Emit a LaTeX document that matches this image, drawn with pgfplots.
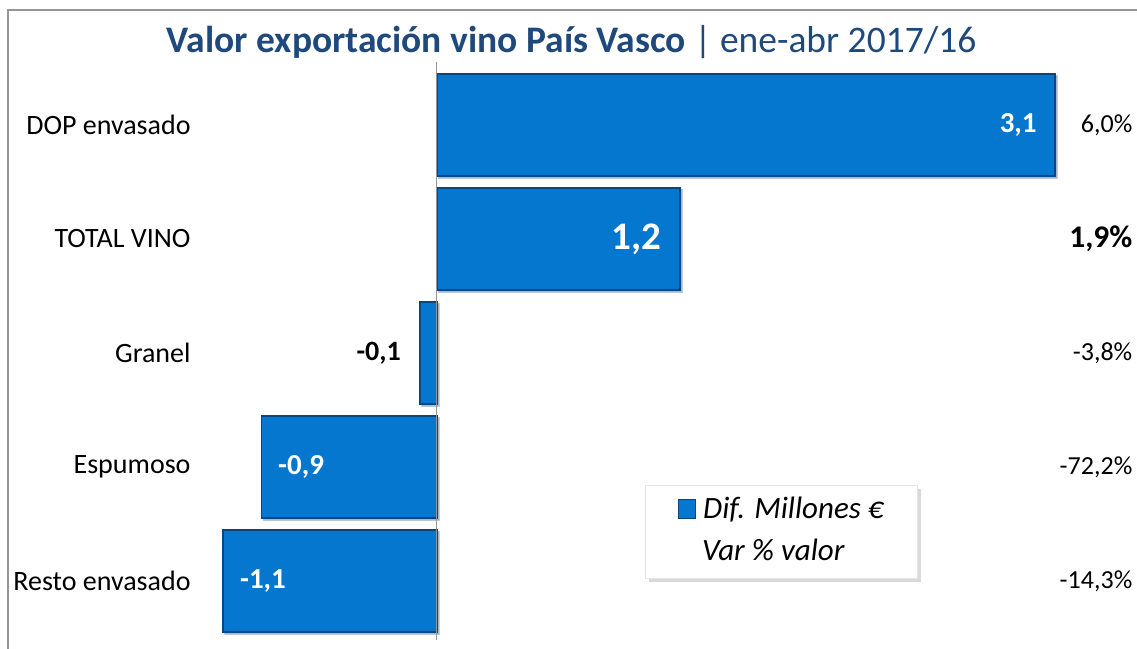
\documentclass[border=0pt]{standalone}
\usepackage{pgfplots}
\pgfplotsset{compat=1.18}
\usepackage{fontspec}
\setmainfont{Carlito}
\usetikzlibrary{shadows}
\definecolor{barblue}{RGB}{6,119,207}
\definecolor{baredge}{RGB}{8,70,130}
\definecolor{titleblue}{RGB}{31,73,125}
\definecolor{framegray}{RGB}{150,150,150}
\begin{document}
\begin{tikzpicture}[x=1pt,y=1pt]
\useasboundingbox (0,0) rectangle (1137,648);
\draw[framegray, line width=1.5pt] (8,-5) -- (8,638) -- (1142,638);
\node[font=\fontsize{37.5}{42}\selectfont, text=titleblue] at (571.5,606)
  {\textbf{Valor exportación vino País Vasco} | ene-abr 2017/16};
\begin{axis}[
  at={(197.7pt,10pt)}, anchor=south west,
  scale only axis, width=877pt, height=570pt,
  xmin=-1.2, xmax=3.2, ymin=-0.5, ymax=4.5,
  axis lines=none,
  xbar, bar width=0.9,
  ytick=\empty, xtick=\empty,
  clip=false,
]
\addplot[fill=barblue, draw=baredge, line width=1.8pt,
  drop shadow={shadow xshift=2pt, shadow yshift=-2pt, opacity=0.25}]
  coordinates {(3.1,4) (1.22,3) (-0.085,2) (-0.88,1) (-1.073,0)};
\draw[framegray, line width=1.2pt] (axis cs:0,4.55) -- (axis cs:0,-0.52);
\begin{scope}[every node/.style={inner sep=0pt}, font=\fontsize{28}{32}\selectfont]
% category labels
\node[anchor=east] at (axis cs:-1.235,4) {DOP envasado};
\node[anchor=east] at (axis cs:-1.235,3) {TOTAL VINO};
\node[anchor=east] at (axis cs:-1.235,2) {Granel};
\node[anchor=east] at (axis cs:-1.235,1) {Espumoso};
\node[anchor=east] at (axis cs:-1.235,0) {Resto envasado};
% percentages
\begin{scope}[font=\fontsize{26}{30}\selectfont]
\node[anchor=east] at (axis cs:3.49,4) {6,0\%};
\node[anchor=east, font=\fontsize{31.5}{34}\selectfont\bfseries] at (axis cs:3.49,3) {1,9\%};
\node[anchor=east] at (axis cs:3.49,2) {-3,8\%};
\node[anchor=east] at (axis cs:3.49,1) {-72,2\%};
\node[anchor=east] at (axis cs:3.49,0) {-14,3\%};
\end{scope}
% value labels
\node[anchor=east, text=white, font=\fontsize{29}{32}\selectfont\bfseries] at (axis cs:3.01,4) {3,1};
\node[anchor=east, text=white, font=\fontsize{39}{42}\selectfont\bfseries] at (axis cs:1.128,3) {1,2};
\node[anchor=east, font=\fontsize{28}{32}\selectfont\bfseries] at (axis cs:-0.18,2) {-0,1};
\node[anchor=west, text=white, font=\fontsize{29}{32}\selectfont\bfseries] at (axis cs:-0.797,1) {-0,9};
\node[anchor=west, text=white, font=\fontsize{29}{32}\selectfont\bfseries] at (axis cs:-0.988,0) {-1,1};
\end{scope}
\end{axis}
% legend
\fill[black, opacity=0.15] (649,66) rectangle (921,159);
\fill[white, draw=gray!20] (645,70) rectangle (917,163);
\fill[barblue, draw=baredge, line width=1pt] (678,130) rectangle (695,148);
\node[anchor=west, inner sep=0pt, font=\fontsize{31}{34}\selectfont\itshape] at (703,138) {Dif. Millones €};
\node[anchor=west, inner sep=0pt, font=\fontsize{31}{34}\selectfont\itshape] at (702,98) {Var \% valor};
\end{tikzpicture}
\end{document}
